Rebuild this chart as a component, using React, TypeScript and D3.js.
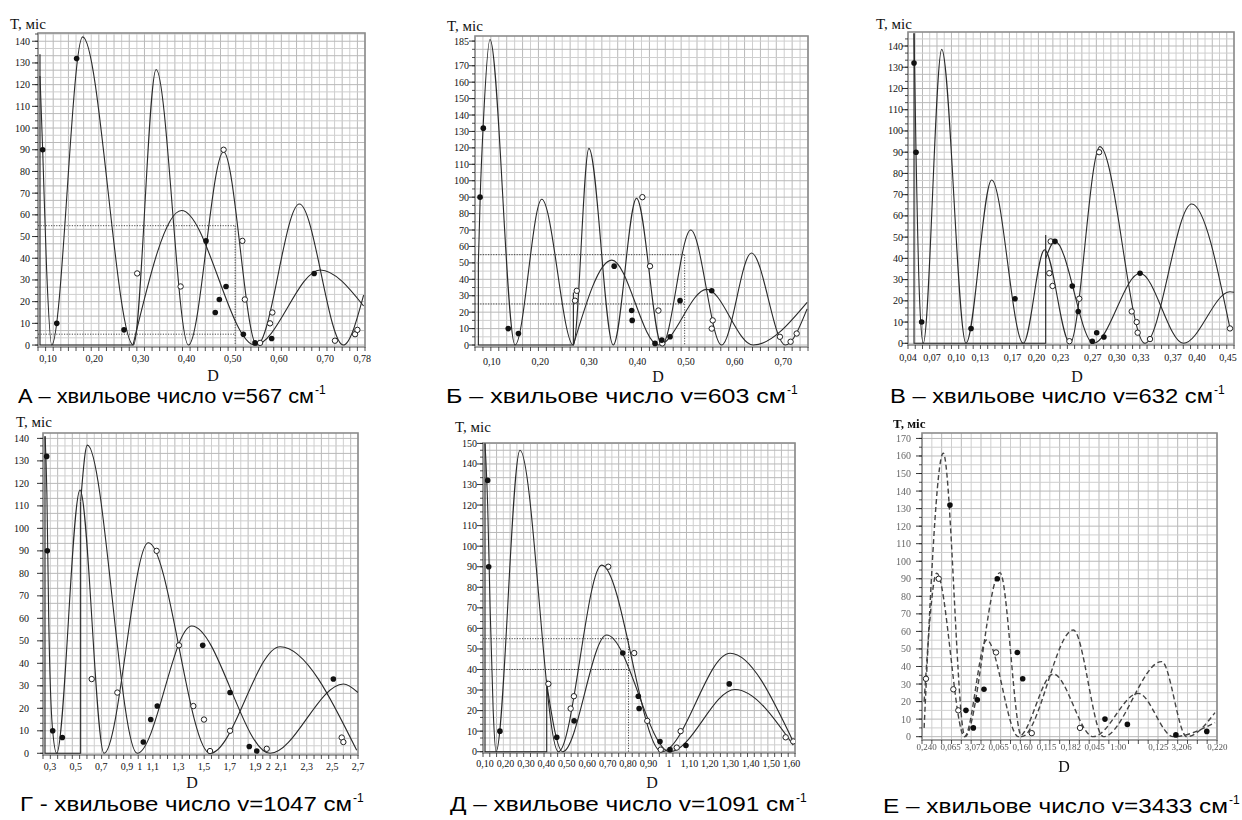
import React from "react";
import * as d3 from "d3";

type Pt = [number, number];

// А – v=567
const aXTicks = [0.1, 0.2, 0.3, 0.4, 0.5, 0.6, 0.7, 0.78];
const aXLabels = ["0,10", "0,20", "0,30", "0,40", "0,50", "0,60", "0,70", "0,78"];
const aYTicks = [0, 10, 20, 30, 40, 50, 60, 70, 80, 90, 100, 110, 120, 130, 140];
const aCurve1: Pt[] = [[0.0827, 124], [0.0885, 90], [0.097, 35], [0.108, 0], [0.175, 142], [0.285, 0], [0.334, 127], [0.404, 0], [0.48, 89], [0.552, 0], [0.644, 65], [0.739, 0], [0.783, 23]];
const aCurve2: Pt[] = [[0.284, 0], [0.389, 62], [0.548, 0], [0.689, 34.6], [0.783, 18]];
const aFilled: Pt[] = [[0.0885, 90], [0.162, 132], [0.119, 10], [0.2645, 7], [0.442, 48], [0.4853, 27], [0.4708, 21], [0.462, 15], [0.5228, 5], [0.548, 1], [0.584, 3], [0.676, 33]];
const aOpen: Pt[] = [[0.48, 90], [0.293, 33], [0.387, 27], [0.5206, 48], [0.526, 21], [0.5855, 15], [0.5805, 10], [0.559, 1], [0.721, 2], [0.7645, 5], [0.7695, 7]];
const aDotted: Pt[][] = [[[0.0784, 55], [0.505, 55]], [[0.0784, 5], [0.505, 5]], [[0.505, 55], [0.505, 0]]];
const aSolid: Pt[][] = [[[0.0827, 134], [0.0827, 0], [0.284, 0]]];

// Б – v=603
const bXTicks = [0.1, 0.2, 0.3, 0.4, 0.5, 0.6, 0.7];
const bXLabels = ["0,10", "0,20", "0,30", "0,40", "0,50", "0,60", "0,70"];
const bYTicks = [0, 10, 20, 30, 40, 50, 60, 70, 80, 90, 100, 110, 120, 130, 140, 150, 160, 170, 185];
const bCurve1: Pt[] = [[0.0725, 50], [0.0765, 92], [0.0827, 135], [0.0965, 186], [0.148, 0], [0.203, 88.7], [0.268, 0], [0.3, 119.7], [0.35, 0], [0.398, 89.3], [0.45, 0], [0.5095, 70], [0.573, 0], [0.6345, 56], [0.704, 0], [0.749, 22]];
const bCurve2: Pt[] = [[0.268, 0], [0.347, 51.7], [0.443, 0], [0.5424, 33.9], [0.638, 0], [0.749, 26]];
const bFilled: Pt[] = [[0.076, 90], [0.0827, 132], [0.134, 10], [0.155, 7], [0.352, 48], [0.388, 21], [0.389, 15], [0.436, 1], [0.45, 3], [0.467, 5], [0.4875, 27], [0.5527, 33]];
const bOpen: Pt[] = [[0.2714, 27], [0.275, 33], [0.41, 90], [0.4257, 48], [0.443, 21], [0.451, 1], [0.5547, 15], [0.5527, 10], [0.693, 5], [0.715, 2], [0.7275, 7]];
const bDotted: Pt[][] = [[[0.0656, 55], [0.497, 55]], [[0.0656, 25], [0.497, 25]], [[0.497, 55], [0.497, 0]]];
const bSolid: Pt[][] = [[[0.0725, 50], [0.0725, 0], [0.268, 0], [0.268, 32]]];

// В – v=632
const vXTicks = [0.04, 0.07, 0.1, 0.13, 0.17, 0.2, 0.23, 0.27, 0.3, 0.33, 0.37, 0.4, 0.45];
const vXLabels = ["0,04", "0,07", "0,10", "0,13", "0,17", "0,20", "0,23", "0,27", "0,30", "0,33", "0,37", "0,40", "0,45"];
const vYTicks = [0, 10, 20, 30, 40, 50, 60, 70, 80, 90, 100, 110, 120, 130, 140];
const vCurve1: Pt[] = [[0.0475, 146], [0.05, 90], [0.0545, 20], [0.059, 0], [0.082, 138.4], [0.1122, 0], [0.1442, 76.9], [0.1836, 0], [0.21, 44], [0.2417, 0], [0.279, 92.6], [0.335, 0], [0.3933, 65.6], [0.441, 7]];
const vCurve2: Pt[] = [[0.2115, 40], [0.223, 48], [0.271, 0], [0.329, 33], [0.383, 0], [0.441, 24.3], [0.446, 24]];
const vFilled: Pt[] = [[0.0475, 132], [0.05, 90], [0.057, 10], [0.1185, 7], [0.1733, 21], [0.223, 48], [0.2446, 27], [0.252, 15], [0.2695, 1], [0.275, 5], [0.284, 3], [0.329, 33]];
const vOpen: Pt[] = [[0.2177, 48], [0.216, 33], [0.22, 27], [0.241, 1], [0.2533, 21], [0.278, 90], [0.3186, 15], [0.3248, 10], [0.326, 5], [0.3414, 2], [0.441, 7]];
const vSolid: Pt[][] = [[[0.0475, 146], [0.0475, 0], [0.2115, 0], [0.2115, 51]]];

// Г – v=1047
const gXTicks = [0.3, 0.5, 0.7, 0.9, 1, 1.1, 1.3, 1.5, 1.7, 1.9, 2, 2.1, 2.3, 2.5, 2.7];
const gXLabels = ["0,3", "0,5", "0,7", "0,9", "1", "1,1", "1,3", "1,5", "1,7", "1,9", "2", "2,1", "2,3", "2,5", "2,7"];
const gYTicks = [0, 10, 20, 30, 40, 50, 60, 70, 80, 90, 100, 110, 120, 130, 140];
const gCurve1: Pt[] = [[0.262, 141], [0.276, 115], [0.29, 60], [0.318, 12], [0.352, 0], [0.534, 117], [0.721, 0], [1.066, 93.6], [1.547, 0], [2.093, 47.4], [2.69, 1.3]];
const gCurve2: Pt[] = [[0.539, 112], [0.591, 137], [0.98, 0], [1.404, 56.6], [2.015, 0], [2.586, 30.8], [2.7, 27]];
const gFilled: Pt[] = [[0.274, 132], [0.279, 90], [0.321, 10], [0.396, 7], [1.027, 5], [1.085, 15], [1.136, 21], [1.49, 48], [1.703, 27], [1.853, 3], [1.911, 1], [2.508, 33]];
const gOpen: Pt[] = [[0.625, 33], [0.825, 27], [1.131, 90], [1.305, 48], [1.417, 21], [1.5, 15], [1.547, 1], [1.703, 10], [1.989, 2], [2.573, 7], [2.586, 5]];
const gSolid: Pt[][] = [[[0.539, 112], [0.539, 0], [0.261, 0], [0.261, 141]]];

// Д – v=1091
const dXTicks = [0.1, 0.2, 0.3, 0.4, 0.5, 0.6, 0.7, 0.8, 0.9, 1, 1.1, 1.2, 1.3, 1.4, 1.5, 1.6];
const dXLabels = ["0,10", "0,20", "0,30", "0,40", "0,50", "0,60", "0,70", "0,80", "0,90", "1", "1,10", "1,20", "1,30", "1,40", "1,50", "1,60"];
const dYTicks = [0, 10, 20, 30, 40, 50, 60, 70, 80, 90, 100, 110, 120, 130, 140, 150];
const dCurve1: Pt[] = [[0.1, 150], [0.113, 120], [0.125, 70], [0.14, 20], [0.154, 0], [0.271, 146.7], [0.459, 0], [0.671, 90.8], [0.9645, 0], [1.299, 47.9], [1.608, 4.9]];
const dCurve2: Pt[] = [[0.402, 33], [0.48, 0], [0.695, 56.8], [1.005, 0], [1.323, 30.3], [1.608, 3.2]];
const dFilled: Pt[] = [[0.113, 132], [0.118, 90], [0.173, 10], [0.451, 7], [0.536, 15], [0.774, 48], [0.85, 27], [0.854, 21], [0.956, 5], [1.005, 1], [1.083, 3], [1.295, 33]];
const dOpen: Pt[] = [[0.41, 33], [0.519, 21], [0.535, 27], [0.703, 90], [0.83, 48], [0.894, 15], [0.96, 1], [1.038, 2], [1.057, 10], [1.571, 7], [1.608, 5]];
const dDotted: Pt[][] = [[[0.0902, 55], [0.802, 55]], [[0.0902, 40], [0.802, 40]], [[0.802, 55], [0.802, 0]]];
const dSolid: Pt[][] = [[[0.1, 150], [0.1, 0], [0.402, 0], [0.402, 35]]];

// Е – v=3433
const eXTicks = [0.0233, 0.0402, 0.0572, 0.0741, 0.091, 0.1079, 0.1249, 0.1418, 0.1584, 0.1867, 0.2031, 0.2283];
const eXLabels = ["0,240", "0,065", "3,072", "0,065", "0,160", "0,115", "0,182", "0,045", "1:00", "0,125", "3,206", "0,220"];
const eYTicks = [0, 10, 20, 30, 40, 50, 60, 70, 80, 90, 100, 110, 120, 130, 140, 150, 160, 170];
const eCurve1: Pt[] = [[0.0215, 5], [0.035, 161.6], [0.0503, 0], [0.075, 93.5], [0.0903, 0], [0.1267, 60.8], [0.1479, 0], [0.189, 42.8], [0.2067, 0], [0.2266, 13.7]];
const eCurve2: Pt[] = [[0.0215, 20], [0.0304, 93.2], [0.05, 0], [0.0656, 55.1], [0.088, 0], [0.1126, 35.7], [0.1408, 0], [0.1725, 24.7], [0.1972, 0], [0.2266, 8]];
const eFilled: Pt[] = [[0.0397, 132], [0.051, 15], [0.0562, 5], [0.059, 21], [0.0637, 27], [0.0731, 90], [0.0872, 48], [0.091, 33], [0.149, 10], [0.1648, 7], [0.199, 1], [0.2208, 3]];
const eOpen: Pt[] = [[0.0228, 33], [0.0318, 90], [0.0421, 27], [0.0456, 15], [0.0722, 48], [0.0974, 2], [0.1314, 5]];

interface Box { left: number; top: number; right: number; bottom: number }
interface PanelCfg {
  box: Box;
  xDomain: [number, number];
  yDomain: [number, number];
  xTicks: number[];
  xLabels: string[];
  yTicks: number[];
  gridNx: number;
  gridStepY: number;
  curves: Pt[][];
  filled: Pt[];
  open: Pt[];
  dotted: Pt[][];
  solid: Pt[][];
  xLabelDy: number;
  yLabelGap: number;
  tLabel: [number, number];
  dLabel: [number, number];
  caption: { main: string; x: number; y: number; w: number };
  soft?: boolean;
}

const panels: PanelCfg[] = [
  {
    box: { left: 38, top: 33, right: 365, bottom: 347 },
    xDomain: [0.0784, 0.786], yDomain: [-0.9, 143.8],
    xTicks: aXTicks, xLabels: aXLabels, yTicks: aYTicks, gridNx: 43, gridStepY: 10 / 3,
    curves: [aCurve1, aCurve2], filled: aFilled, open: aOpen, dotted: aDotted, solid: aSolid,
    xLabelDy: 15, yLabelGap: 6, tLabel: [10, 29], dLabel: [213, 381],
    caption: { main: "А – хвильове число v=567 см", x: 18, y: 403, w: 296 },
  },
  {
    box: { left: 475, top: 36, right: 808, bottom: 347 },
    xDomain: [0.0656, 0.7508], yDomain: [-1.2, 188.1],
    xTicks: bXTicks, xLabels: bXLabels, yTicks: bYTicks, gridNx: 42, gridStepY: 5,
    curves: [bCurve1, bCurve2], filled: bFilled, open: bOpen, dotted: bDotted, solid: bSolid,
    xLabelDy: 18, yLabelGap: 4, tLabel: [447, 31], dLabel: [658, 382],
    caption: { main: "Б – хвильове число v=603 см", x: 446, y: 403, w: 340 },
  },
  {
    box: { left: 908, top: 32, right: 1234, bottom: 345 },
    xDomain: [0.04, 0.446], yDomain: [-0.8, 146.6],
    xTicks: vXTicks, xLabels: vXLabels, yTicks: vYTicks, gridNx: 45, gridStepY: 10 / 3,
    curves: [vCurve1, vCurve2], filled: vFilled, open: vOpen, dotted: [], solid: vSolid,
    xLabelDy: 16, yLabelGap: 3, tLabel: [876, 29], dLabel: [1077, 382],
    caption: { main: "В – хвильове число v=632 см", x: 890, y: 403, w: 323 },
  },
  {
    box: { left: 43, top: 433, right: 358, bottom: 755 },
    xDomain: [0.2455, 2.7], yDomain: [-0.76, 142.4],
    xTicks: gXTicks, xLabels: gXLabels, yTicks: gYTicks, gridNx: 43, gridStepY: 10 / 3,
    curves: [gCurve1, gCurve2], filled: gFilled, open: gOpen, dotted: [], solid: gSolid,
    xLabelDy: 15, yLabelGap: 12, tLabel: [16, 427], dLabel: [192, 788],
    caption: { main: "Г - хвильове число v=1047 см", x: 20, y: 811, w: 332 },
  },
  {
    box: { left: 483, top: 443, right: 795, bottom: 753 },
    xDomain: [0.0902, 1.6166], yDomain: [-0.63, 150.2],
    xTicks: dXTicks, xLabels: dXLabels, yTicks: dYTicks, gridNx: 46, gridStepY: 10 / 3,
    curves: [dCurve1, dCurve2], filled: dFilled, open: dOpen, dotted: dDotted, solid: dSolid,
    xLabelDy: 14, yLabelGap: 4, tLabel: [455, 432], dLabel: [652, 788],
    caption: { main: "Д – хвильове число v=1091 см", x: 450, y: 811, w: 345 },
  },
  {
    box: { left: 922, top: 433, right: 1217, bottom: 740 },
    xDomain: [0.02, 0.228], yDomain: [-1.9, 173.1],
    xTicks: eXTicks, xLabels: eXLabels, yTicks: eYTicks, gridNx: 30, gridStepY: 5,
    curves: [eCurve1, eCurve2], filled: eFilled, open: eOpen, dotted: [], solid: [],
    xLabelDy: 10, yLabelGap: 9, tLabel: [893, 428], dLabel: [1064, 772],
    caption: { main: "Е – хвильове число v=3433 см", x: 883, y: 813, w: 345 },
    soft: true,
  },
];

const serif = "'Liberation Serif', 'DejaVu Serif', serif";
const sans = "'Liberation Sans', Arial, sans-serif";

function Panel({ c, id }: { c: PanelCfg; id: string }) {
  const { box } = c;
  const x = d3.scaleLinear().domain(c.xDomain).range([box.left, box.right]);
  const y = d3.scaleLinear().domain(c.yDomain).range([box.bottom, box.top]);
  const smooth = d3.line<Pt>().x(d => x(d[0])).y(d => y(d[1])).curve(d3.curveMonotoneX);
  const poly = d3.line<Pt>().x(d => x(d[0])).y(d => y(d[1]));
  const gx = d3.range(c.gridNx + 1).map(i => c.xDomain[0] + ((c.xDomain[1] - c.xDomain[0]) * i) / c.gridNx);
  const gy = d3.range(0, c.yDomain[1], c.gridStepY);
  const soft = c.soft ? "url(#soft)" : undefined;

  return (
    <g>
      <clipPath id={`clip-${id}`}>
        <rect x={box.left} y={box.top} width={box.right - box.left} height={box.bottom - box.top} />
      </clipPath>
      <g filter={soft}>
        {gx.map((v, i) => (
          <line key={`gx${i}`} x1={x(v)} x2={x(v)} y1={box.top} y2={box.bottom}
            stroke={i % 2 ? "#cfcfcf" : "#b9b9b9"} strokeWidth={1} />
        ))}
        {gy.map((v, i) => (
          <line key={`gy${i}`} x1={box.left} x2={box.right} y1={y(v)} y2={y(v)}
            stroke={i % 2 ? "#cfcfcf" : "#b9b9b9"} strokeWidth={1} />
        ))}
        <rect x={box.left} y={box.top} width={box.right - box.left} height={box.bottom - box.top}
          fill="none" stroke="#8c8c8c" strokeWidth={1.6} />
        {gx.map((v, i) => (
          <line key={`tx${i}`} x1={x(v)} x2={x(v)} y1={box.bottom} y2={box.bottom + 4} stroke="#222" strokeWidth={0.8} />
        ))}
        {gy.map((v, i) => (
          <line key={`ty${i}`} x1={box.left - 3} x2={box.left} y1={y(v)} y2={y(v)} stroke="#222" strokeWidth={0.8} />
        ))}
        {c.yTicks.map(v => (
          <g key={`yl${v}`}>
            <line x1={box.left - 6} x2={box.left} y1={y(v)} y2={y(v)} stroke="#222" strokeWidth={0.9} />
            <text x={box.left - c.yLabelGap - 2} y={y(v)} dy="0.35em" textAnchor="end"
              fontFamily={serif} fontSize={10} fill={c.soft ? "#666" : "#111"}>{v}</text>
          </g>
        ))}
        {c.xTicks.map((v, i) => (
          <text key={`xl${i}`} x={Math.min(x(v), 1228)} y={box.bottom + c.xLabelDy} textAnchor="middle"
            fontFamily={serif} fontSize={c.soft ? 9 : 10} fill={c.soft ? "#555" : "#111"}>{c.xLabels[i]}</text>
        ))}
        <g clipPath={`url(#clip-${id})`}>
          {c.solid.map((s, i) => (
            <path key={`s${i}`} d={poly(s) ?? ""} fill="none" stroke="#222" strokeWidth={1.1} />
          ))}
          {c.dotted.map((s, i) => (
            <path key={`d${i}`} d={poly(s) ?? ""} fill="none" stroke="#333" strokeWidth={0.9} strokeDasharray="1.2,1.4" />
          ))}
          {c.curves.map((s, i) => (
            <path key={`c${i}`} d={smooth(s) ?? ""} fill="none" stroke={c.soft ? "#444" : "#2a2a2a"}
              strokeWidth={c.soft ? 1.4 : 1.1} strokeDasharray={c.soft ? "5,3" : undefined} />
          ))}
          {c.open.map((p, i) => (
            <circle key={`o${i}`} cx={x(p[0])} cy={y(p[1])} r={2.7} fill="#fff" stroke="#222" strokeWidth={1} />
          ))}
          {c.filled.map((p, i) => (
            <circle key={`f${i}`} cx={x(p[0])} cy={y(p[1])} r={2.8} fill="#111" />
          ))}
        </g>
        <text x={c.tLabel[0]} y={c.tLabel[1]} fontFamily={serif} fontSize={c.soft ? 13 : 15}
          fontWeight={c.soft ? "bold" : "normal"} fill="#111">T, міс</text>
        <text x={c.dLabel[0]} y={c.dLabel[1]} textAnchor="middle" fontFamily={serif} fontSize={16} fill="#111">D</text>
      </g>
      <text x={c.caption.x} y={c.caption.y} fontFamily={sans} fontSize={20} fill="#000"
        textLength={c.caption.w} lengthAdjust="spacingAndGlyphs">{c.caption.main}</text>
      <text x={c.caption.x + c.caption.w + 1} y={c.caption.y - 9} fontFamily={sans} fontSize={12} fill="#000">-1</text>
    </g>
  );
}

export default function App() {
  return (
    <svg width={1242} height={820} viewBox="0 0 1242 820"
      style={{ position: "absolute", left: 0, top: 0, background: "#fff" }}>
      <defs>
        <filter id="soft" x="-5%" y="-5%" width="110%" height="110%">
          <feGaussianBlur stdDeviation="0.55" />
        </filter>
      </defs>
      <rect width={1242} height={820} fill="#fff" />
      {panels.map((c, i) => <Panel key={i} c={c} id={`p${i}`} />)}
    </svg>
  );
}
